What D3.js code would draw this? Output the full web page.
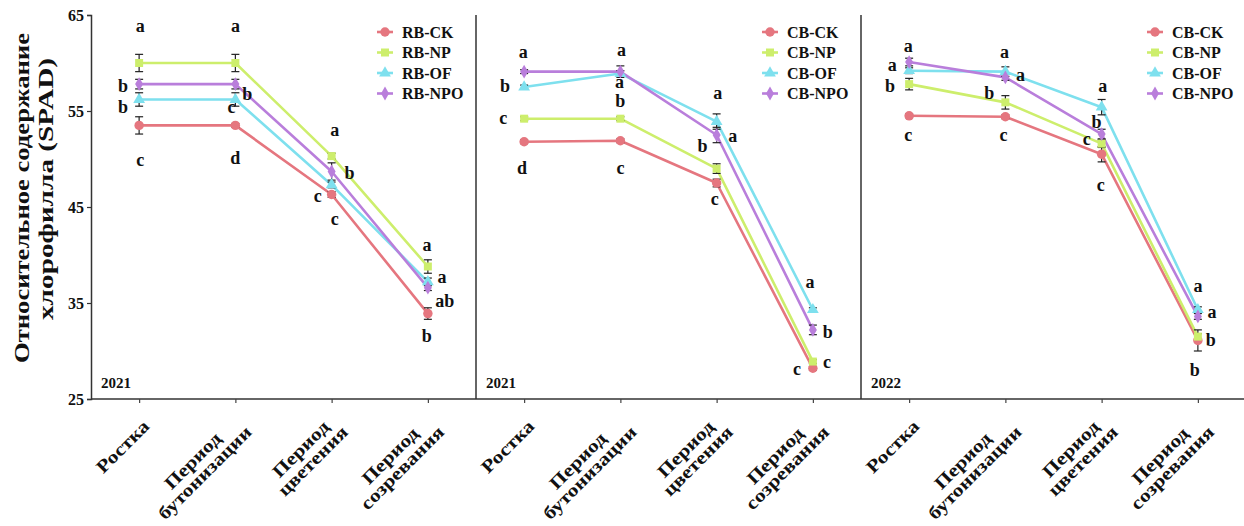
<!DOCTYPE html>
<html>
<head>
<meta charset="utf-8">
<script src="https://cdn.jsdelivr.net/npm/d3@7"></script>
<style>
  html, body { margin: 0; padding: 0; background: #fff; }
  svg { display: block; }
  text { font-family: "Liberation Serif", "Times New Roman", serif; font-weight: bold; fill: #111; }
</style>
</head>
<body>
<svg id="chart" width="1244" height="526"></svg>
<script>
// Growth stages on the x axis (each split into label lines)
const stageLines = [["Ростка"], ["Период", "бутонизации"], ["Период", "цветения"], ["Период", "созревания"]];
const yTicks = [25, 35, 45, 55, 65];
const treatments = ["CK", "NP", "OF", "NPO"];
const panelPrefixes = ["RB", "CB", "CB"];
const panelYears = ["2021", "2021", "2022"];

// SPAD means per treatment (Ростка, бутонизации, цветения, созревания)
const rb2021Mean = [
  [53.5, 53.5, 46.3, 33.9],   // CK
  [60.0, 60.0, 50.3, 38.8],   // NP
  [56.2, 56.2, 47.3, 37.2],   // OF
  [57.8, 57.8, 48.7, 36.6]    // NPO
];
const rb2021Err = [
  [0.9, 0.2, 0.3, 0.6],
  [0.9, 0.9, 0.3, 0.7],
  [0.7, 0.7, 0.3, 0.4],
  [0.5, 0.5, 0.9, 0.3]
];
const rb2021Letters = [
  ["c", "d", "c", "b"],
  ["a", "a", "a", "a"],
  ["b", "c", "c", "a"],
  ["b", "b", "b", "ab"]
];

const cb2021Mean = [
  [51.8, 51.9, 47.5, 28.2],
  [54.2, 54.2, 49.0, 28.9],
  [57.5, 58.9, 53.9, 34.3],
  [59.1, 59.1, 52.5, 32.2]
];
const cb2021Err = [
  [0.2, 0.2, 0.4, 0.2],
  [0.2, 0.2, 0.5, 0.2],
  [0.2, 0.3, 0.8, 0.2],
  [0.2, 0.6, 0.8, 0.5]
];
const cb2021Letters = [
  ["d", "c", "c", "c"],
  ["c", "b", "b", "c"],
  ["b", "a", "a", "a"],
  ["a", "a", "a", "b"]
];

const cb2022Mean = [
  [54.5, 54.4, 50.5, 31.1],
  [57.8, 55.9, 51.6, 31.5],
  [59.2, 59.1, 55.4, 34.3],
  [60.1, 58.5, 52.6, 33.6]
];
const cb2022Err = [
  [0.2, 0.2, 0.8, 1.1],
  [0.6, 0.7, 0.4, 0.3],
  [0.3, 0.5, 0.8, 0.3],
  [0.4, 0.3, 0.5, 0.3]
];
const cb2022Letters = [
  ["c", "c", "c", "b"],
  ["b", "b", "c", "b"],
  ["a", "a", "a", "a"],
  ["a", "a", "b", "a"]
];

const panelMeans = [rb2021Mean, cb2021Mean, cb2022Mean];
const panelErrs = [rb2021Err, cb2021Err, cb2022Err];
const panelLetters = [rb2021Letters, cb2021Letters, cb2022Letters];

// Placement of the significance letters around each point (px, per panel/treatment/stage)
const letterOffsets = [
  [
    [[1, 35], [0, 33], [3, 25], [-1, 23]],
    [[1, -36], [0, -36], [3, -26], [-1, -21]],
    [[-16, 8], [-4, 8], [-14, 12], [14, -4]],
    [[-16, 2], [12, 10], [18, 2], [17, 14]]
  ],
  [
    [[-2, 27], [0, 28], [-2, 17], [-16, 1]],
    [[-21, 0], [0, -17], [-14, -22], [14, 1]],
    [[-19, 0], [-1, 9], [1, -28], [-3, -27]],
    [[-1, -19], [1, -21], [16, 2], [15, 3]]
  ],
  [
    [[-1, 20], [-2, 19], [-1, 31], [-3, 30]],
    [[-19, 2], [-16, -9], [-15, -4], [13, 4]],
    [[-17, -5], [-1, -19], [1, -21], [0, -23]],
    [[-1, -15], [15, -2], [-5, -11], [14, -4]]
  ]
];

const colors = ["#e5767f", "#cdee6c", "#7ee0ee", "#b97edb"];
const symbols = [d3.symbolCircle, d3.symbolSquare, d3.symbolTriangle, d3.symbolDiamond];
const symbolSizes = [70, 64, 60, 55];

const svg = d3.select("#chart");
const plotTop = 15, plotBottom = 399;
const panelLeft = [91, 476, 861];
const panelWidth = 385;

const y = d3.scaleLinear().domain([25, 65]).range([plotBottom, plotTop]);

// Continuous bottom axis line
svg.append("line")
  .attr("x1", panelLeft[0]).attr("x2", 1244)
  .attr("y1", plotBottom).attr("y2", plotBottom)
  .attr("stroke", "#333").attr("stroke-width", 1.5);

// Left y axis with tick labels
const yAxis = d3.axisLeft(y).tickValues(yTicks).tickSize(4).tickPadding(3);
const yg = svg.append("g").attr("transform", `translate(${panelLeft[0]},0)`).call(yAxis);
yg.select(".domain").attr("stroke", "#333").attr("stroke-width", 1.5);
yg.selectAll(".tick line").attr("stroke", "#333").attr("stroke-width", 1.2);
yg.selectAll(".tick text")
  .attr("font-family", "Liberation Serif, serif")
  .attr("font-weight", "bold").attr("font-size", 16).attr("fill", "#222");

// Y title (two lines)
const yTitle = svg.append("g").attr("transform", "translate(0,198) rotate(-90)");
yTitle.append("text").attr("x", 0).attr("y", 29).attr("text-anchor", "middle")
  .attr("font-size", 21).attr("textLength", 330).attr("lengthAdjust", "spacingAndGlyphs")
  .text("Относительное содержание");
yTitle.append("text").attr("x", 9).attr("y", 53).attr("text-anchor", "middle")
  .attr("font-size", 21).attr("textLength", 262).attr("lengthAdjust", "spacingAndGlyphs")
  .text("хлорофилла (SPAD)");

panelLeft.forEach((left, p) => {
  const x = d3.scalePoint().domain(d3.range(4)).range([left, left + panelWidth]).padding(0.5);

  // panel separator / y axis line
  if (p > 0) {
    svg.append("line").attr("x1", left).attr("x2", left).attr("y1", plotTop).attr("y2", plotBottom)
      .attr("stroke", "#333").attr("stroke-width", 1.5);
  }

  // x ticks
  const xAxis = d3.axisBottom(x).tickSize(4).tickFormat("");
  const xg = svg.append("g").attr("transform", `translate(0,${plotBottom})`).call(xAxis);
  xg.select(".domain").remove();
  xg.selectAll(".tick line").attr("stroke", "#444").attr("stroke-width", 1.2);

  // rotated stage labels
  stageLines.forEach((lines, i) => {
    const g = svg.append("g").attr("transform", `translate(${x(i)},${plotBottom}) rotate(-45)`);
    const texts = lines.map(t => g.append("text").attr("font-size", 18).attr("text-anchor", "middle").text(t));
    const stretch = 1.2;
    const lens = texts.map(t => t.node().getComputedTextLength() * stretch);
    const maxLen = d3.max(lens);
    const n = lines.length;
    texts.forEach((t, k) => {
      t.attr("x", -12 - maxLen / 2)
        .attr("y", 22 + (k - (n - 1) / 2) * 17 + 6)
        .attr("textLength", lens[k]).attr("lengthAdjust", "spacingAndGlyphs");
    });
  });

  // year label
  svg.append("text").attr("x", left + 10).attr("y", 388).attr("font-size", 15).text(panelYears[p]);

  const means = panelMeans[p], errs = panelErrs[p], letters = panelLetters[p];
  const line = d3.line().x((d, i) => x(i)).y(d => y(d));

  // series lines
  means.forEach((m, s) => {
    svg.append("path").attr("d", line(m)).attr("fill", "none")
      .attr("stroke", colors[s]).attr("stroke-width", 2.6).attr("stroke-linejoin", "round");
  });

  // error bars
  means.forEach((m, s) => {
    m.forEach((v, i) => {
      const e = errs[s][i];
      const g = svg.append("g").attr("stroke", "#222").attr("stroke-width", 1.2);
      g.append("line").attr("x1", x(i)).attr("x2", x(i)).attr("y1", y(v + e)).attr("y2", y(v - e));
      [v + e, v - e].forEach(b => g.append("line").attr("x1", x(i) - 4).attr("x2", x(i) + 4).attr("y1", y(b)).attr("y2", y(b)));
    });
  });

  // markers
  means.forEach((m, s) => {
    svg.append("g").selectAll("path").data(m).join("path")
      .attr("transform", (d, i) => `translate(${x(i)},${y(d)})`)
      .attr("d", d3.symbol().type(symbols[s]).size(symbolSizes[s]))
      .attr("fill", colors[s]);
  });

  // significance letters
  means.forEach((m, s) => {
    m.forEach((v, i) => {
      const off = letterOffsets[p][s][i];
      svg.append("text").attr("x", x(i) + off[0]).attr("y", y(v) + off[1])
        .attr("dy", "0.3em").attr("text-anchor", "middle").attr("font-size", 18)
        .text(letters[s][i]);
    });
  });

  // legend
  treatments.forEach((t, s) => {
    const ly = 32 + s * 20.5;
    const lx = left + 294;
    svg.append("line").attr("x1", lx - 8).attr("x2", lx + 8).attr("y1", ly).attr("y2", ly)
      .attr("stroke", colors[s]).attr("stroke-width", 2.6);
    svg.append("path").attr("transform", `translate(${lx},${ly})`)
      .attr("d", d3.symbol().type(symbols[s]).size(symbolSizes[s])).attr("fill", colors[s]);
    svg.append("text").attr("x", left + 311).attr("y", ly).attr("dy", "0.35em")
      .attr("font-size", 16).text(`${panelPrefixes[p]}-${t}`);
  });
});
</script>
</body>
</html>
